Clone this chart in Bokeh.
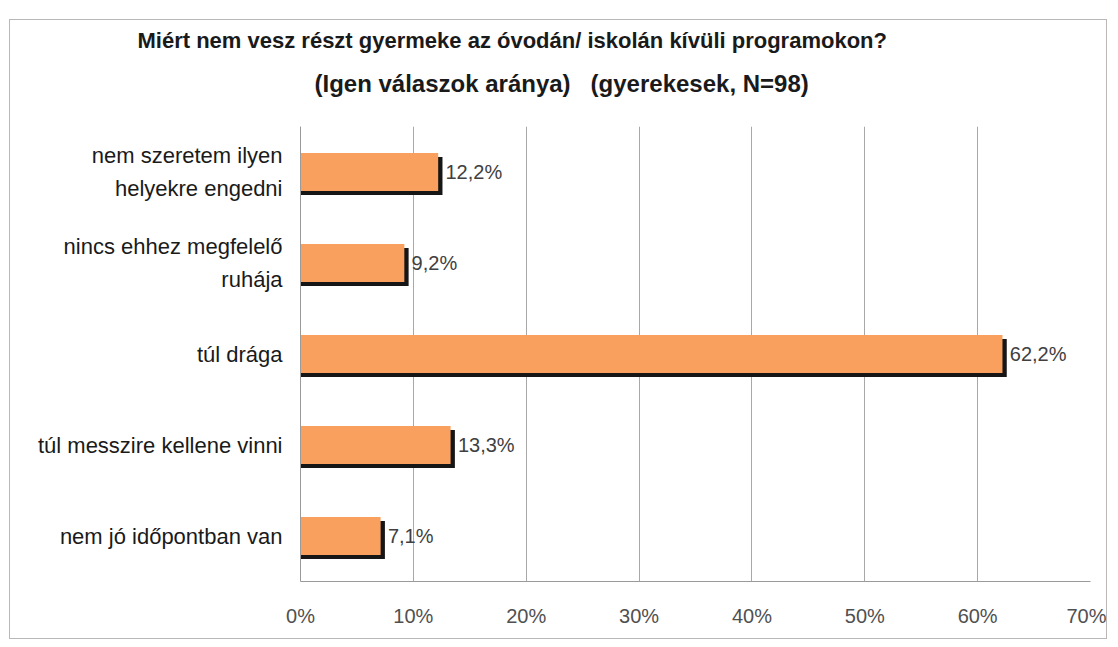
from bokeh.plotting import figure
from bokeh.models import ColumnDataSource, FactorRange, Range1d, FixedTicker, Title
from bokeh.transform import dodge
from bokeh.core.properties import value
from bokeh.embed import file_html
from bokeh.resources import INLINE

title_line1 = "Miért nem vesz részt gyermeke az óvodán/ iskolán kívüli programokon?"
title_line2 = "(Igen válaszok aránya)\u00a0\u00a0 (gyerekesek, N=98)"

categories = [
    "nem szeretem ilyen\nhelyekre engedni",
    "nincs ehhez megfelelő\nruhája",
    "túl drága",
    "túl messzire kellene vinni",
    "nem jó időpontban van",
]
values = [12.2, 9.2, 62.2, 13.3, 7.1]
x_ticks = [0, 10, 20, 30, 40, 50, 60, 70]
x_tick_labels = ["0%", "10%", "20%", "30%", "40%", "50%", "60%", "70%"]

FONT = "Liberation Sans"
SHADOW_DX = 0.38  # shadow shift in data units (style)

src = ColumnDataSource(dict(
    cat=categories,
    val=values,
    shadow_right=[v + SHADOW_DX for v in values],
    lbl=[("%.1f" % v).replace(".", ",") + "%" for v in values],
))

t1 = Title(text=title_line1, align="left", offset=-163, standoff=-24, vertical_align="top",
           text_font=FONT, text_font_size="22px", text_font_style="bold", text_color="#1a1a1a")
t2 = Title(text=title_line2, align="left", offset=14, standoff=55, vertical_align="top",
           text_font=FONT, text_font_size="24px", text_font_style="bold", text_color="#1a1a1a")

p = figure(
    width=1098, height=620,
    y_range=FactorRange(*reversed(categories)),
    x_range=Range1d(x_ticks[0], x_ticks[-1]),
    output_backend="svg", toolbar_location=None,
    min_border_left=290, min_border_right=18, min_border_top=106, min_border_bottom=59,
)
p.styles = {"border": "1px solid #b8b8b8", "margin-left": "9px", "margin-top": "19px"}
p.title = t1
p.add_layout(t2, "above")

p.hbar(y=dodge("cat", -0.044, range=p.y_range), left=0, right="shadow_right", height=0.42,
       source=src, fill_color="#161616", line_color=None)
p.hbar(y="cat", left=0, right="val", height=0.42, source=src,
       fill_color="#F9A05E", line_color=None)
p.text(x="shadow_right", y="cat", text="lbl", source=src, x_offset=3,
       text_baseline="middle", text_align="left", text_font=value(FONT),
       text_font_size="20px", text_color="#404040")

p.xaxis.ticker = FixedTicker(ticks=x_ticks)
p.xaxis.major_label_overrides = dict(zip(x_ticks, x_tick_labels))
p.xaxis.major_tick_line_color = None
p.xaxis.minor_tick_line_color = None
p.xaxis.axis_line_color = "#9a9a9a"
p.xaxis.major_label_standoff = 17
p.xaxis.major_label_text_font = FONT
p.xaxis.major_label_text_font_size = "20px"
p.xaxis.major_label_text_color = "#505050"

p.yaxis.major_tick_line_color = None
p.yaxis.minor_tick_line_color = None
p.yaxis.axis_line_color = "#9a9a9a"
p.yaxis.major_label_standoff = 12
p.yaxis.major_label_text_font = FONT
p.yaxis.major_label_text_font_size = "22px"
p.yaxis.major_label_text_line_height = 1.3
p.yaxis.major_label_text_color = "#1a1a1a"

p.xgrid.ticker = FixedTicker(ticks=x_ticks)
p.xgrid.grid_line_color = "#a8a8a8"
p.ygrid.grid_line_color = None
p.outline_line_color = None

open("out.html", "w").write(file_html(p, INLINE))
